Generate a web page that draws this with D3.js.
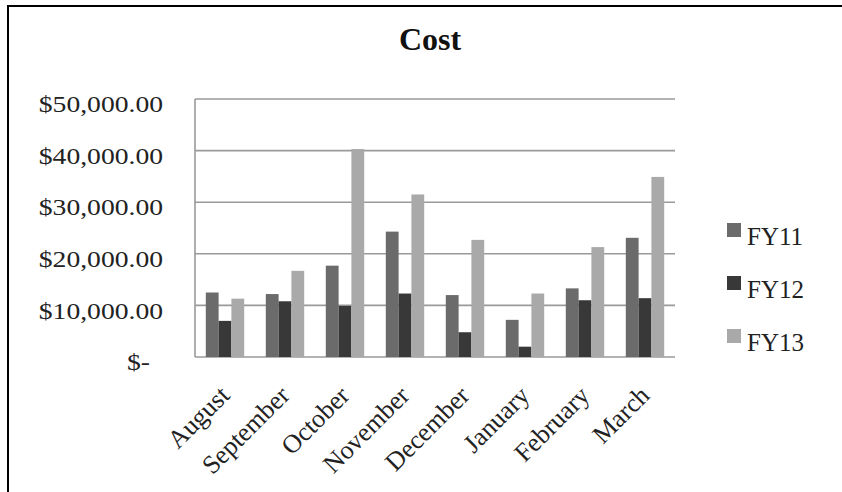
<!DOCTYPE html>
<html>
<head>
<meta charset="utf-8">
<script src="https://cdn.jsdelivr.net/npm/d3@7"></script>
<style>
  body { margin: 0; background: #fff; }
  svg text { font-family: "Liberation Serif", "Times New Roman", serif; }
</style>
</head>
<body>
<div id="chart"></div>
<script>
// chart data
const months = ["August", "September", "October", "November", "December", "January", "February", "March"];
const seriesNames = ["FY11", "FY12", "FY13"];
const fy11 = [12500, 12200, 17700, 24300, 12000, 7200, 13300, 23100];
const fy12 = [7000, 10800, 9900, 12300, 4800, 2000, 11000, 11400];
const fy13 = [11300, 16700, 40300, 31500, 22700, 12300, 21300, 34900];
const yTicks = [0, 10000, 20000, 30000, 40000, 50000];

const seriesValues = [fy11, fy12, fy13];
const colors = ["#6b6b6b", "#383838", "#a9a9a9"];

const width = 842;
const height = 492;
const margin = {top: 99, right: 167, bottom: 135, left: 195};

const svg = d3.select("#chart")
    .append("svg")
    .attr("width", width)
    .attr("height", height);

// frame lines (left and top only)
svg.append("line")
    .attr("x1", 8).attr("x2", 8)
    .attr("y1", 5).attr("y2", height)
    .attr("stroke", "#000").attr("stroke-width", 2);
svg.append("line")
    .attr("x1", 7).attr("x2", width)
    .attr("y1", 6).attr("y2", 6)
    .attr("stroke", "#000").attr("stroke-width", 2);

// scales
const x0 = d3.scaleBand()
    .domain(months)
    .range([margin.left, width - margin.right])
    .paddingInner(0.36)
    .paddingOuter(0.18);

const x1 = d3.scaleBand()
    .domain(seriesNames)
    .range([0, x0.bandwidth()]);

const y = d3.scaleLinear()
    .domain([0, 50000])
    .range([height - margin.bottom, margin.top]);

// gridlines
svg.append("g")
    .selectAll("line")
    .data(yTicks)
    .enter()
    .append("line")
    .attr("x1", margin.left)
    .attr("x2", width - margin.right)
    .attr("y1", d => y(d))
    .attr("y2", d => y(d))
    .attr("stroke", "#9a9a9a")
    .attr("stroke-width", 1.6);

// left axis line
svg.append("line")
    .attr("x1", margin.left).attr("x2", margin.left)
    .attr("y1", margin.top).attr("y2", y(0))
    .attr("stroke", "#9a9a9a")
    .attr("stroke-width", 1.6);

// bars
const data = months.map((m, i) => ({month: m, values: seriesNames.map((s, j) => ({key: s, value: seriesValues[j][i], idx: j}))}));

svg.append("g")
    .selectAll("g")
    .data(data)
    .enter()
    .append("g")
    .attr("transform", d => `translate(${x0(d.month)},0)`)
    .selectAll("rect")
    .data(d => d.values)
    .enter()
    .append("rect")
    .attr("x", d => x1(d.key))
    .attr("y", d => y(d.value))
    .attr("width", x1.bandwidth())
    .attr("height", d => y(0) - y(d.value))
    .attr("fill", d => colors[d.idx]);

// y axis labels
const moneyFmt = d3.format(",.2f");
const yAxis = d3.axisLeft(y)
    .tickValues(yTicks)
    .tickSize(0)
    .tickPadding(32)
    .tickFormat(d => d === 0 ? "$-" : "$" + moneyFmt(d));

const yG = svg.append("g")
    .attr("transform", `translate(${margin.left},0)`)
    .call(yAxis);
yG.select(".domain").remove();
yG.selectAll("text")
    .attr("font-family", "Liberation Serif, serif")
    .attr("font-size", 23)
    .attr("fill", "#222")
    .attr("dy", "0.55em")
    .attr("dx", d => d === 0 ? -13 : 0)
    .each(function() {
        // the labels in the picture are drawn a bit wider than the font
        const w = this.getComputedTextLength();
        this.setAttribute("textLength", w * 1.2);
        this.setAttribute("lengthAdjust", "spacingAndGlyphs");
    });

// x axis labels
svg.append("g")
    .selectAll("text")
    .data(months)
    .enter()
    .append("text")
    .attr("transform", d => `translate(${x0(d) + x0.bandwidth() / 2 + 6},${y(0) + 40}) rotate(-45)`)
    .attr("text-anchor", "end")
    .attr("font-size", 26)
    .attr("fill", "#222")
    .text(d => d);

// title
svg.append("text")
    .attr("x", 430)
    .attr("y", 50)
    .attr("text-anchor", "middle")
    .attr("font-size", 32)
    .attr("font-weight", "bold")
    .attr("fill", "#111")
    .text("Cost");

// legend
const legend = svg.append("g")
    .selectAll("g")
    .data(seriesNames)
    .enter()
    .append("g")
    .attr("transform", (d, i) => `translate(727,${237 + i * 53})`);

legend.append("rect")
    .attr("x", 0)
    .attr("y", -14)
    .attr("width", 14)
    .attr("height", 14)
    .attr("fill", (d, i) => colors[i]);

legend.append("text")
    .attr("x", 20)
    .attr("y", 8)
    .attr("font-size", 25)
    .attr("fill", "#222")
    .text(d => d);
</script>
</body>
</html>
